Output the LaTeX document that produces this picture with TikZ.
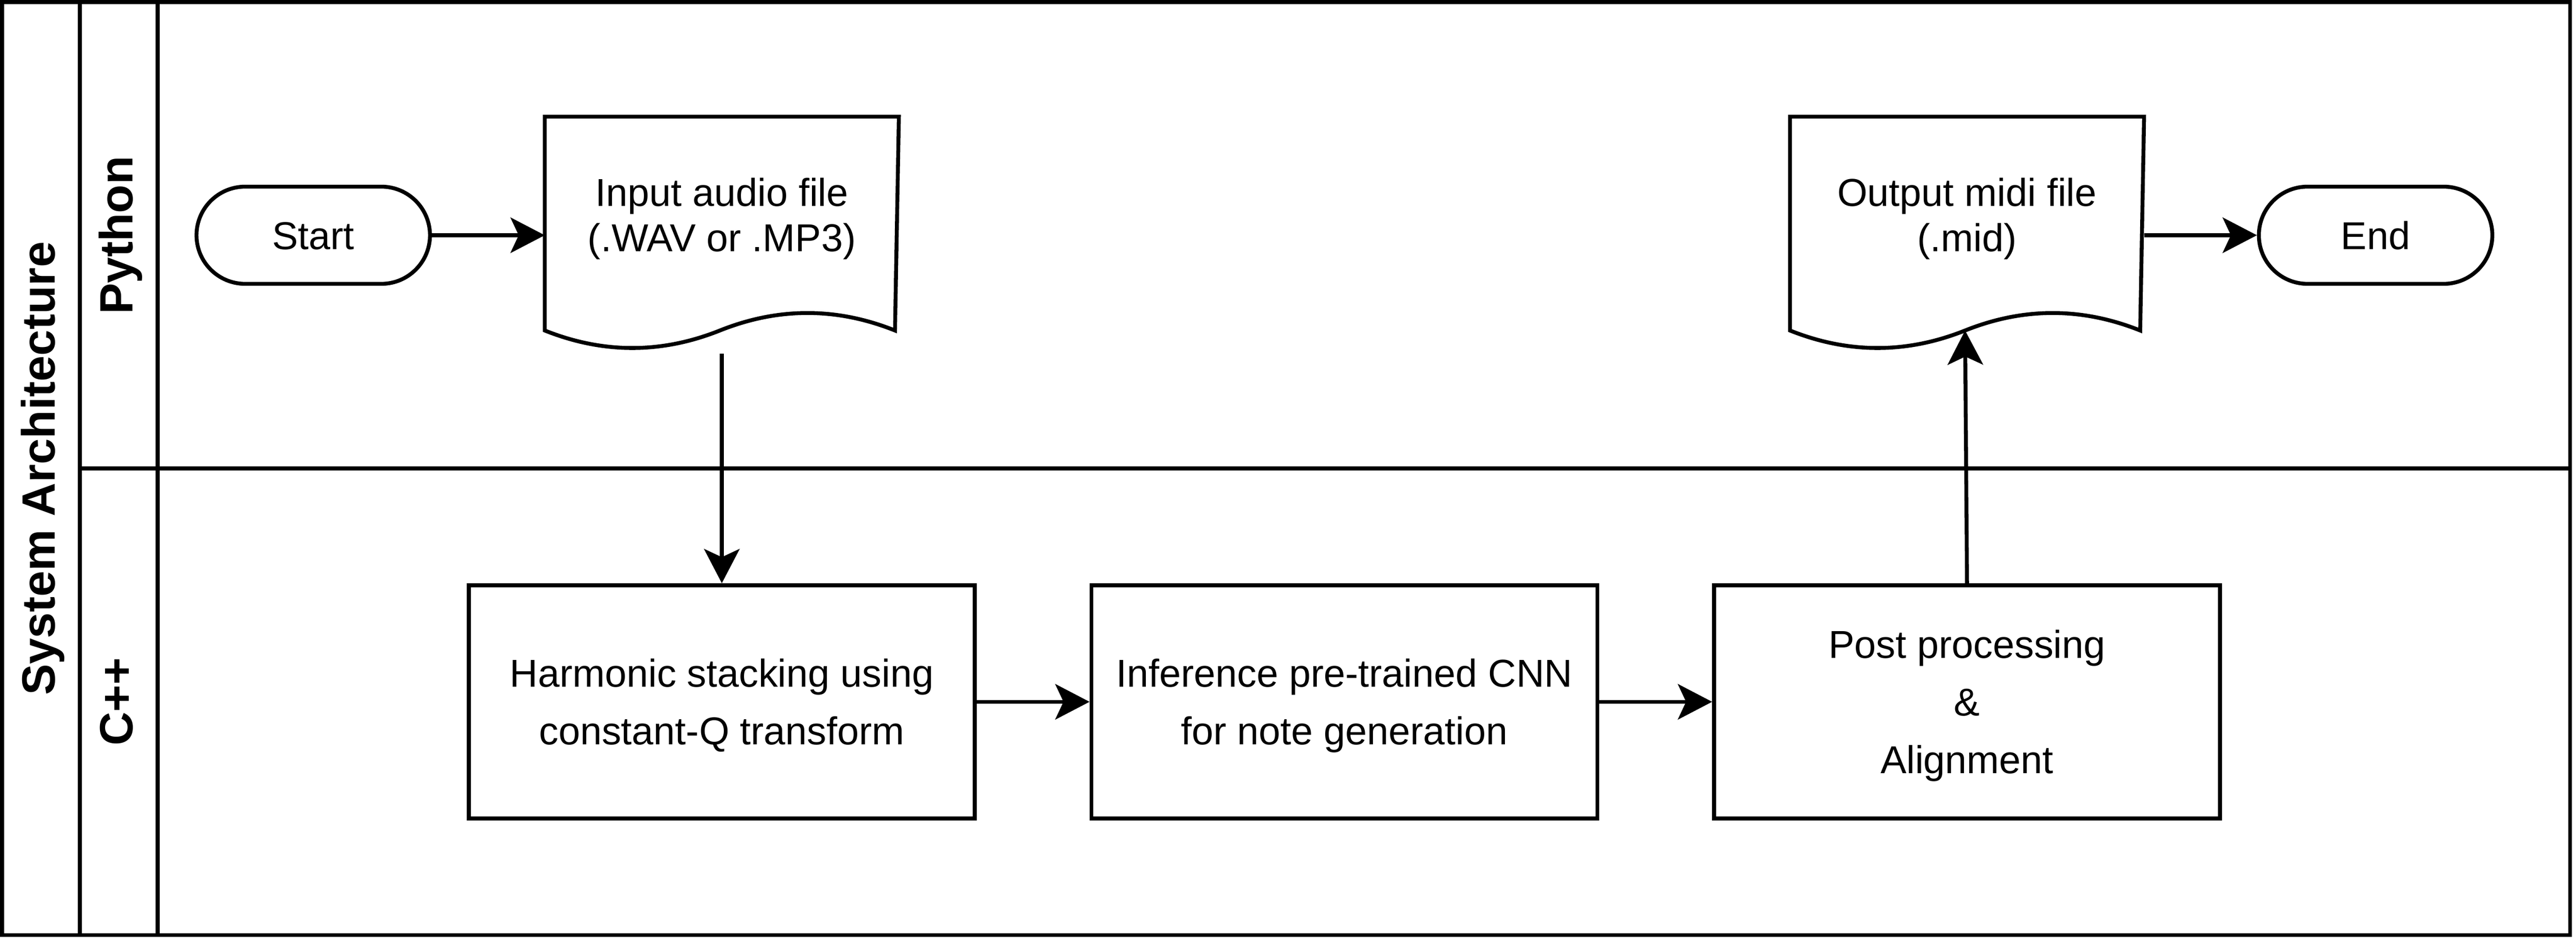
\documentclass[tikz,border=0pt]{standalone}
\usepackage{fontspec}
\setmainfont{Liberation Sans}
\usetikzlibrary{arrows.meta,calc}
\newcommand\topstr{\rule{0pt}{10pt}}
\newcommand\botstr{\rule[-2.84pt]{0pt}{2.84pt}}
\newcommand\lanestr{\rule[-4.9pt]{0pt}{16.9pt}}
\newcommand\docpath[1]{%
  \draw[ln,fill=white] (#1.north west) -- (#1.north east)
    -- ($(#1.north west)+(90,55)$)
    .. controls ($(#1.north west)+(75,49)$) and ($(#1.north west)+(60,49)$) .. ($(#1.north west)+(45,55)$)
    .. controls ($(#1.north west)+(30,61)$) and ($(#1.north west)+(15,61)$) .. ($(#1.north west)+(0,55)$)
    -- cycle;}
\begin{document}
\begin{tikzpicture}[x=1pt,y=-1pt,
  ln/.style={line width=1pt, draw=black},
  lanebox/.style={ln, rectangle, inner sep=0pt},
  lanehead/.style={ln, rectangle, inner sep=0pt, rotate=90, font=\fontsize{12}{14}\selectfont\bfseries},
  term/.style={ln, fill=white, rectangle, rounded corners=12.5pt, minimum width=60pt, minimum height=25pt, inner sep=0pt, font=\fontsize{10}{11.7}\selectfont},
  proc/.style={ln, fill=white, rectangle, minimum width=130pt, minimum height=60pt, inner sep=0pt, align=center, font=\fontsize{10}{14.8}\selectfont},
  docbox/.style={rectangle, minimum width=90pt, minimum height=60pt, inner sep=0pt, outer sep=0.5pt},
  doctext/.style={align=center, inner sep=0pt, font=\fontsize{10}{11.7}\selectfont},
  arr/.style={ln, -{Stealth[length=8.8pt,width=9.1pt,inset=2.1pt]}},
]
\useasboundingbox (0,0) rectangle (662,242);
\fill[white] (0,0) rectangle (662,242);

% swimlanes
\node[lanehead, minimum width=240pt, minimum height=20pt] (pool) at (10.5,120.5) {\lanestr System Architecture};
\node[lanebox, minimum width=640pt, minimum height=120pt] (pylane) at (340.5,60.5) {};
\node[lanebox, minimum width=640pt, minimum height=120pt] (cpplane) at (340.5,180.5) {};
\node[lanehead, minimum width=120pt, minimum height=20pt] (pyhead) at (30.5,60.5) {\lanestr Python};
\node[lanehead, minimum width=120pt, minimum height=20pt] (cpphead) at (30.5,180.5) {\lanestr C++};

% Python lane
\node[term] (start) at (80.5,60.5) {\topstr Start\botstr};
\node[docbox] (in) at (185.5,60.5) {};
\docpath{in}
\node[doctext] (intext) at (185.5,55.25) {\topstr Input audio file\\(.WAV or .MP3)\botstr};

\node[docbox] (out) at (505.5,60.5) {};
\docpath{out}
\node[doctext] (outtext) at (505.5,55.25) {\topstr Output midi file\\(.mid)\botstr};
\coordinate (outw) at ($(out.north west)+(45,55)$);

\node[term] (end) at (610.5,60.5) {\topstr End\botstr};

% C++ lane
\node[proc] (harm) at (185.5,180.5) {\topstr Harmonic stacking using\\constant-Q transform\botstr};
\node[proc] (inf) at (345.5,180.5) {\topstr Inference pre-trained CNN\\for note generation\botstr};
\node[proc] (post) at (505.5,180.5) {\topstr Post processing\\\&\\Alignment\botstr};

% connectors
\draw[arr] (start.east) -- (in.west);
\draw[arr] (in.south) -- (harm.north);
\draw[arr] (harm.east) -- (inf.west);
\draw[arr] (inf.east) -- (post.west);
\draw[arr] (post.north) -- (outw);
\draw[arr] (out.east) -- (end.west);
\end{tikzpicture}
\end{document}
